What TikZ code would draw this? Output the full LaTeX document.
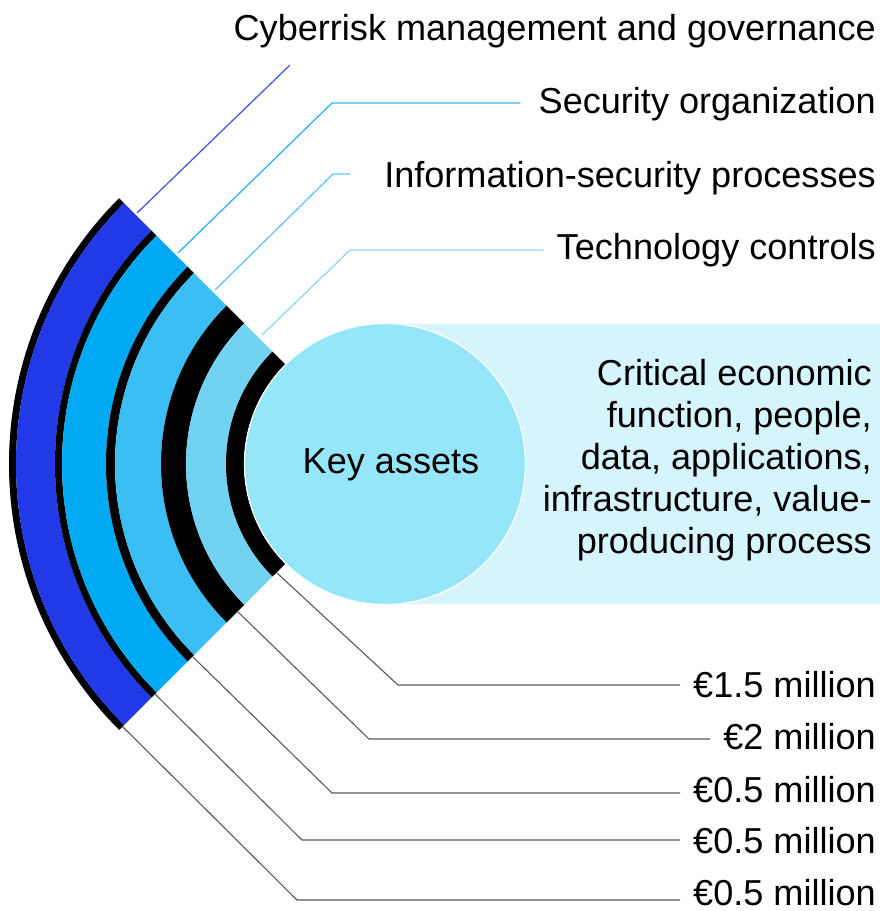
\documentclass[tikz,border=0pt]{standalone}
\usepackage{fontspec}
\setmainfont{Liberation Sans}
\usetikzlibrary{calc}
\definecolor{ringA}{HTML}{2139E6}
\definecolor{ringB}{HTML}{00A9F4}
\definecolor{ringC}{HTML}{3ABEF4}
\definecolor{ringD}{HTML}{72D2F1}
\definecolor{circc}{HTML}{96E6F9}
\definecolor{rectc}{HTML}{D5F4FC}
\definecolor{lnA}{HTML}{4A5AE6}
\definecolor{lnB}{HTML}{2FB4F0}
\definecolor{lnC}{HTML}{5DC8F3}
\definecolor{lnD}{HTML}{8DD9F5}
\begin{document}
\begin{tikzpicture}[x=1pt,y=1pt,
  lbl/.style={inner sep=0pt, font=\fontsize{36.1}{42}\selectfont, anchor=base east},
  topln/.style={line width=1.3pt},
  botln/.style={line width=1.1pt, draw=black!65},
]
\useasboundingbox (0,0) rectangle (880,-911);
\coordinate (c) at (385,-464);
\fill[rectc] (385,-324) rectangle (880,-604);
% rings
\foreach \col/\ro/\ri in {black/376/369, ringA/369/330, black/330/323, ringB/323/279, black/279/270, ringC/270/224, black/224/199, ringD/199/159, black/159/141}{
  \fill[\col, shift={(c)}] (135:\ro pt) arc[start angle=135, end angle=225, radius=\ro pt]
     -- (225:\ri pt) arc[start angle=225, end angle=135, radius=\ri pt] -- cycle;
}
\node[circle, fill=circc, draw=white, line width=1.2pt, minimum size=281pt, inner sep=0pt] (ka) at (c) {};
\node[lbl, anchor=base] (kat) at (391,-473) {Key assets};
% right text block
\node[lbl] (r1) at (872,-385) {Critical economic};
\node[lbl] (r2) at (872,-427) {function, people,};
\node[lbl] (r3) at (872,-469) {data, applications,};
\node[lbl] (r4) at (872,-511) {infrastructure, value-};
\node[lbl] (r5) at (872,-553) {producing process};
% top labels
\node[lbl] (t1) at (876,-40) {Cyberrisk management and governance};
\node[lbl] (t2) at (876,-113) {Security organization};
\node[lbl] (t3) at (876,-187) {Information-security processes};
\node[lbl] (t4) at (876,-259) {Technology controls};
% bottom labels
\node[lbl] (b1) at (876,-697) {€1.5 million};
\node[lbl] (b2) at (876,-749) {€2 million};
\node[lbl] (b3) at (876,-802) {€0.5 million};
\node[lbl] (b4) at (876,-853) {€0.5 million};
\node[lbl] (b5) at (876,-905) {€0.5 million};
% top leader coordinates
\coordinate (u1) at (137,-213); \coordinate (v1) at (290,-65);
\coordinate (u2) at (178,-253); \coordinate (v2) at (332,-103);
\coordinate (u3) at (215,-290); \coordinate (v3) at (333,-174); \coordinate (w3) at (350,-174);
\coordinate (u4) at (262,-335); \coordinate (v4) at (350,-250);
\draw[topln, lnA] (u1) -- (v1);
\draw[topln, lnB] (u2) -- (v2) -- ([xshift=-18pt]v2 -| t2.west);
\draw[topln, lnC] (u3) -- (v3) -- (w3);
\draw[topln, lnD] (u4) -- (v4) -- ([xshift=-13pt]v4 -| t4.west);
% bottom leader coordinates
\coordinate (s1) at (277,-573); \coordinate (k1) at (398,-685);
\coordinate (s2) at (238,-612); \coordinate (k2) at (369,-739);
\coordinate (s3) at (193,-657); \coordinate (k3) at (332,-793);
\coordinate (s4) at (155,-694); \coordinate (k4) at (302,-840);
\coordinate (s5) at (122,-726); \coordinate (k5) at (297,-900);
\foreach \i in {1,...,5}{\draw[botln] (s\i) -- (k\i) -- ([xshift=-13pt]k\i -| b\i.west);}
\end{tikzpicture}
\end{document}
